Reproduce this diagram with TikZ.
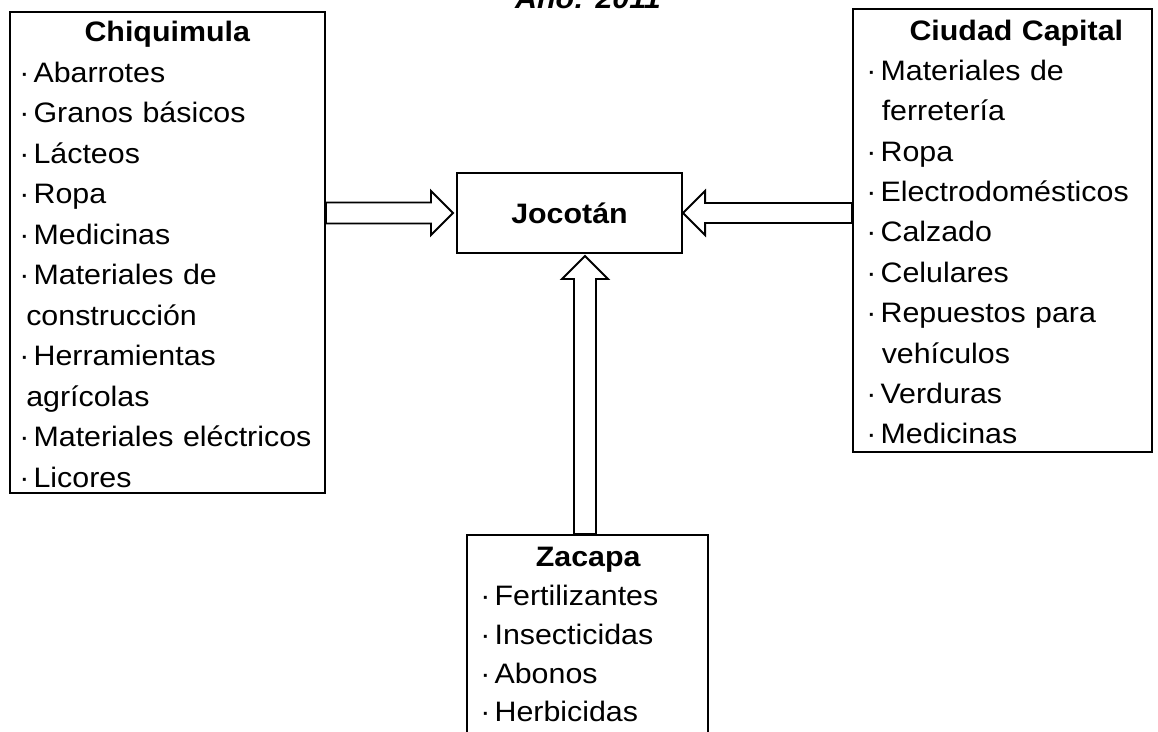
\documentclass[tikz,border=0pt]{standalone}
\usepackage{fontspec}
\setmainfont{Liberation Sans}[FakeStretch=1.08]
\usetikzlibrary{calc,fit,positioning}

\newcommand\itm{·\hspace{3pt}}

\tikzset{
  box/.style={draw, line width=1.4pt, inner sep=0pt},
  list/.style={anchor=north west, inner sep=0pt, align=left,
    font=\fontsize{20}{#1}\selectfont},
  title/.style={anchor=base, inner sep=0pt,
    font=\fontsize{20}{24}\selectfont\bfseries\itshape},
  fat/.style={draw, line width=1.4pt, line join=miter},
}

\begin{document}
\begin{tikzpicture}[x=0.025cm, y=-0.025cm]
   \useasboundingbox (0,0) rectangle (1158,731);

   % titulo, cortado por arriba
   \node[title] (anio) at (588,8) {Año: 2011};

   % cajas
   \node[box, fit={(10,12) (325,493)}] (chiq) {};
   \node[box, fit={(853,9) (1152,452)}] (capital) {};
   \node[box, fit={(467,535) (708,770)}] (zacapa) {};
   \node[box, minimum width=5.625cm, minimum height=2cm,
     font=\fontsize{20}{24}\selectfont\bfseries] (jocotan) at (569.5,213) {Jocotán};

   \node[list=28.8pt, text width=7.4cm] (chiqtxt) at (19,21)
   {\hfill\textbf{Chiquimula}\hfill\null\\
    \itm Abarrotes\\
    \itm Granos básicos\\
    \itm Lácteos\\
    \itm Ropa\\
    \itm Medicinas\\
    \itm Materiales de\\
    \hspace*{5pt}construcción\\
    \itm Herramientas\\
    \hspace*{5pt}agrícolas\\
    \itm Materiales eléctricos\\
    \itm Licores};

   \node[list=28.7pt, text width=7.5cm] (capitaltxt) at (866,19.5)
   {\hfill\textbf{Ciudad Capital}\hfill\null\\
    \itm Materiales de\\
    \hspace*{11pt}ferretería\\
    \itm Ropa\\
    \itm Electrodomésticos\\
    \itm Calzado\\
    \itm Celulares\\
    \itm Repuestos para\\
    \hspace*{11pt}vehículos\\
    \itm Verduras\\
    \itm Medicinas};

   \node[list=27.6pt, text width=5.4cm] (zacapatxt) at (480,547)
   {\hfill\textbf{Zacapa}\hfill\null\\
    \itm Fertilizantes\\
    \itm Insecticidas\\
    \itm Abonos\\
    \itm Herbicidas};

   % flechas
   \coordinate (lA) at (chiq.east |- jocotan.west);
   \coordinate (lT) at ($(jocotan.west)+(-3,0)$);
   \draw[fat] ($(lA)+(0,-10.5)$) -- ($(lT)+(-22,-10.5)$) -- ($(lT)+(-22,-22)$)
   -- (lT) -- ($(lT)+(-22,22)$) -- ($(lT)+(-22,10.5)$) -- ($(lA)+(0,10.5)$) -- cycle;

   \coordinate (rA) at (capital.west |- jocotan.east);
   \coordinate (rT) at (jocotan.east);
   \draw[fat] ($(rA)+(0,-10)$) -- ($(rT)+(22,-10)$) -- ($(rT)+(22,-22)$)
   -- (rT) -- ($(rT)+(22,22)$) -- ($(rT)+(22,10)$) -- ($(rA)+(0,10)$) -- cycle;

   \coordinate (uA) at ($(zacapa.north)+(-2.5,0)$);
   \coordinate (uT) at ($(uA |- jocotan.south)+(0,2)$);
   \draw[fat] ($(uA)+(-11,0)$) -- ($(uT)+(-11,23)$) -- ($(uT)+(-23,23)$)
   -- (uT) -- ($(uT)+(23,23)$) -- ($(uT)+(11,23)$) -- ($(uA)+(11,0)$) -- cycle;
\end{tikzpicture}
\end{document}
